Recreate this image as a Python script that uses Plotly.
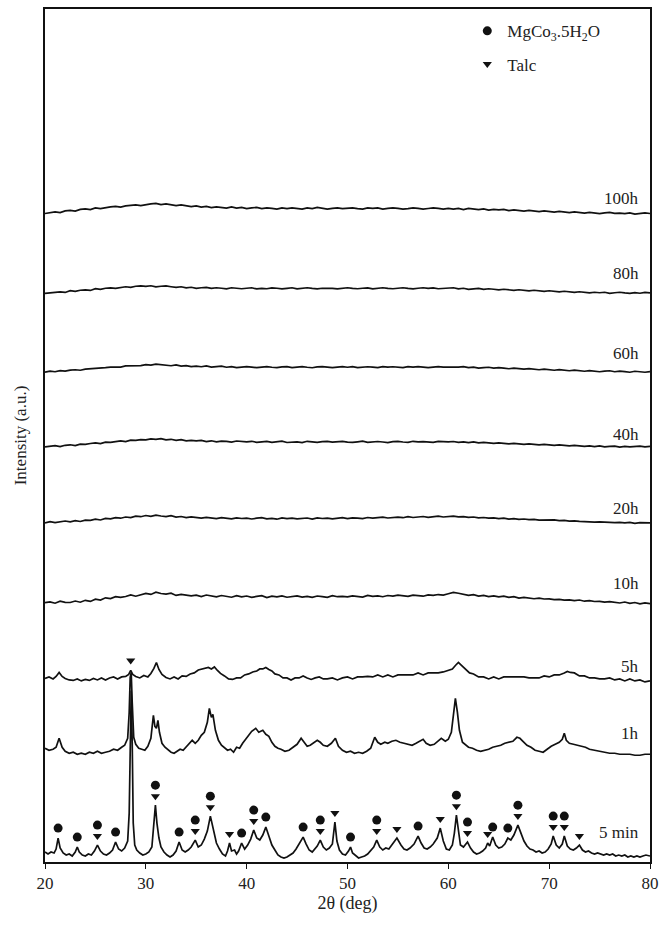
import numpy as np
import plotly.graph_objects as go

# ---------------------------------------------------------------------------
# XRD patterns of the milled powder (2-theta in degrees, intensity in a.u.)
# ---------------------------------------------------------------------------

# Crystalline patterns (non-uniform sampling, denser around reflections)
tt_5min = [20.0, 20.3, 20.6, 20.9, 21.1, 21.3, 21.5, 21.8, 22.1, 22.4, 22.7, 23.0, 23.2, 23.4,
           23.7, 24.0, 24.3, 24.6, 24.9, 25.2, 25.5, 25.8, 26.1, 26.4, 26.7, 27.0, 27.3, 27.6,
           27.9, 28.2, 28.35, 28.45, 28.55, 28.65, 28.75, 28.9, 29.1, 29.4, 29.7, 30.0, 30.3,
           30.6, 30.8, 30.95, 31.1, 31.3, 31.5, 31.8, 32.1, 32.4, 32.7, 33.0, 33.3, 33.6, 33.9,
           34.2, 34.5, 34.9, 35.2, 35.5, 35.8, 36.1, 36.4, 36.7, 37.0, 37.3, 37.6, 37.9, 38.1,
           38.3, 38.5, 38.8, 39.0, 39.2, 39.5, 39.8, 40.1, 40.4, 40.7, 41.0, 41.3, 41.6, 41.9,
           42.2, 42.5, 42.8, 43.1, 43.4, 43.7, 44.0, 44.3, 44.6, 44.9, 45.2, 45.6, 45.9, 46.2,
           46.5, 46.8, 47.0, 47.3, 47.6, 47.9, 48.2, 48.5, 48.75, 48.95, 49.2, 49.5, 49.8, 50.1,
           50.3, 50.5, 50.8, 51.1, 51.4, 51.7, 52.0, 52.3, 52.6, 52.9, 53.2, 53.5, 53.8, 54.1,
           54.4, 54.9, 55.3, 55.6, 55.9, 56.2, 56.6, 57.0, 57.3, 57.6, 57.9, 58.2, 58.5, 58.9,
           59.2, 59.5, 59.8, 60.1, 60.4, 60.6, 60.8, 61.0, 61.2, 61.5, 61.9, 62.2, 62.5, 62.8,
           63.1, 63.4, 63.7, 63.9, 64.1, 64.4, 64.7, 65.0, 65.3, 65.6, 65.9, 66.2, 66.5, 66.9,
           67.2, 67.5, 67.8, 68.1, 68.4, 68.7, 69.0, 69.3, 69.6, 69.9, 70.2, 70.4, 70.7, 71.0,
           71.3, 71.5, 71.8, 72.1, 72.4, 72.7, 73.0, 73.3, 73.6, 73.9, 74.2, 74.5, 74.8, 75.1,
           75.4, 75.7, 76.0, 76.3, 76.6, 76.9, 77.2, 77.5, 77.8, 78.1, 78.4, 78.7, 79.0, 79.3,
           79.6, 80.0]
i_5min = [1, -1, 1, 0, 4, 15, 5, 0, -2, -1, -3, 1, 6, 1,
          -2, -3, -1, -2, 2, 8, 2, -1, -2, 0, 3, 11, 4, 2,
          5, 12, 40, 120, 163, 110, 30, 8, 3, 0, -2, -1, 1,
          6, 30, 48, 30, 15, 6, 1, -2, -4, -2, 2, 11, 3, 1,
          3, 6, 13, 6, 8, 14, 22, 37, 22, 10, 4, -1, -3, 2,
          10, 2, 3, -1, 2, 10, 4, 8, 14, 23, 15, 13, 18, 26,
          17, 8, 3, -2, -4, -5, -4, -2, 0, 4, 9, 16, 9, 3,
          1, 4, 7, 13, 6, 3, 5, 9, 31, 12, 3, -1, -2, 2,
          6, 0, -3, -5, -4, -3, -1, 2, 6, 13, 6, 3, 5, 4,
          8, 15, 8, 4, 3, 5, 9, 17, 10, 5, 4, 6, 9, 15,
          25, 12, 4, 3, 8, 20, 38, 22, 8, 6, 11, 5, 1, -1,
          0, 2, 5, 10, 7, 16, 8, 5, 6, 9, 15, 13, 18, 28,
          20, 12, 7, 4, 3, 1, 2, 0, 1, 4, 9, 17, 8, 5,
          9, 17, 7, 4, 3, 5, 8, 3, 1, 2, 0, -1, 0, -1,
          -2, -1, -2, -1, -3, -2, -3, -2, -4, -3, -4, -3, -4, -3,
          -2, -3]

tt_1h = [20.0, 20.4, 20.8, 21.1, 21.4, 21.7, 22.0, 22.4, 22.8, 23.2, 23.6, 24.0, 24.4, 24.8,
         25.2, 25.6, 26.0, 26.4, 26.8, 27.2, 27.6, 27.9, 28.2, 28.35, 28.45, 28.55, 28.65,
         28.8, 29.0, 29.3, 29.6, 29.9, 30.2, 30.5, 30.75, 30.9, 31.05, 31.2, 31.35, 31.6,
         31.9, 32.2, 32.5, 32.8, 33.1, 33.4, 33.7, 34.0, 34.3, 34.6, 34.9, 35.2, 35.5, 35.8,
         36.1, 36.3, 36.5, 36.65, 36.9, 37.2, 37.5, 37.8, 38.1, 38.4, 38.7, 39.0, 39.3, 39.6,
         39.9, 40.2, 40.5, 40.9, 41.2, 41.6, 41.9, 42.2, 42.5, 42.8, 43.1, 43.4, 43.8, 44.2,
         44.6, 45.0, 45.4, 45.7, 46.0, 46.3, 46.6, 47.0, 47.3, 47.6, 48.0, 48.4, 48.8, 49.1,
         49.5, 49.9, 50.3, 50.7, 51.1, 51.5, 51.9, 52.3, 52.7, 53.0, 53.3, 53.7, 54.0, 54.4,
         54.8, 55.2, 55.6, 56.0, 56.4, 56.8, 57.2, 57.5, 57.8, 58.2, 58.6, 59.0, 59.3, 59.7,
         60.0, 60.3, 60.5, 60.7, 60.9, 61.1, 61.4, 61.7, 62.0, 62.4, 62.8, 63.2, 63.6, 64.0,
         64.4, 64.8, 65.2, 65.6, 66.0, 66.4, 66.8, 67.1, 67.4, 67.8, 68.2, 68.6, 69.0, 69.4,
         69.8, 70.2, 70.6, 71.0, 71.3, 71.5, 71.7, 72.0, 72.4, 72.8, 73.2, 73.6, 74.0, 74.5,
         75.0, 75.5, 76.0, 76.5, 77.0, 77.5, 78.0, 78.5, 79.0, 79.5, 80.0]
i_1h = [4, 2, 3, 5, 14, 5, 1, -1, 0, -2, -1, -2, 0, -1,
        1, -1, 0, 1, 3, 2, 5, 7, 14, 40, 75, 80, 50,
        15, 8, 4, 3, 2, 6, 14, 37, 26, 24, 32, 20, 9,
        5, 2, 0, -1, 1, 3, 2, 5, 8, 12, 9, 12, 17, 20,
        30, 44, 35, 38, 22, 12, 7, 4, 2, 3, 0, 5, 4, 9,
        13, 18, 21, 24, 20, 22, 18, 16, 10, 6, 4, 3, 1, 2,
        5, 8, 14, 10, 6, 7, 9, 12, 10, 7, 6, 9, 14, 6,
        2, 0, 1, -1, 0, -1, 1, 4, 15, 10, 8, 10, 9, 11,
        12, 10, 9, 8, 7, 9, 11, 13, 9, 7, 8, 11, 14, 11,
        13, 20, 35, 54, 40, 22, 10, 7, 5, 4, 2, 1, 2, 3,
        5, 6, 7, 9, 10, 11, 15, 14, 11, 7, 5, 2, 1, 0,
        3, 6, 8, 10, 13, 19, 12, 9, 8, 7, 6, 5, 3, 2,
        1, 0, -1, -1, -2, -2, -2, -3, -3, -2, -2]

tt_5h = [20.0, 20.4, 20.8, 21.1, 21.4, 21.7, 22.0, 22.4, 22.8, 23.2, 23.6, 24.0, 24.4, 24.8,
         25.2, 25.6, 26.0, 26.4, 26.8, 27.2, 27.6, 28.0, 28.3, 28.5, 28.7, 29.0, 29.4, 29.8,
         30.2, 30.5, 30.8, 31.05, 31.3, 31.6, 32.0, 32.4, 32.8, 33.2, 33.6, 34.0, 34.4, 34.8,
         35.2, 35.6, 35.9, 36.2, 36.5, 36.8, 37.1, 37.4, 37.8, 38.2, 38.6, 39.0, 39.4, 39.8,
         40.2, 40.6, 41.0, 41.3, 41.6, 41.9, 42.2, 42.5, 42.8, 43.2, 43.6, 44.0, 44.4, 44.8,
         45.2, 45.6, 46.0, 46.4, 46.8, 47.2, 47.6, 48.0, 48.5, 49.0, 49.5, 50.0, 50.5, 51.0,
         51.5, 52.0, 52.5, 53.0, 53.5, 54.0, 54.5, 55.0, 55.5, 56.0, 56.5, 57.0, 57.5, 58.0,
         58.5, 59.0, 59.5, 60.0, 60.4, 60.7, 61.0, 61.2, 61.5, 61.8, 62.1, 62.5, 63.0, 63.5,
         64.0, 64.5, 65.0, 65.5, 66.0, 66.5, 67.0, 67.5, 68.0, 68.5, 69.0, 69.5, 70.0, 70.5,
         71.0, 71.5, 71.8, 72.1, 72.5, 73.0, 73.5, 74.0, 74.5, 75.0, 75.5, 76.0, 76.5, 77.0,
         77.5, 78.0, 78.5, 79.0, 79.5, 80.0]
i_5h = [0, 1.5, -0.5, 2, 6, 2, 0, -1.5, -2, -0.5, -2.5, -1, -2, 0,
        -1.5, 0.5, -1.5, 0.5, 1.5, -0.5, 1.5, 2, 4, 8, 4, 2, 0.5, 3,
        1.5, 5, 10, 16, 9, 4, 1, -0.5, 1.5, -0.5, 2.5, 2, 4.5, 5.5,
        8.5, 9.5, 10, 11, 9.5, 11.5, 8, 5, 2.5, -0.5, -1, 0.5, 0.5, 3.5,
        4.5, 6.5, 7.5, 9.5, 9.5, 11, 9, 7.5, 4.5, 3.5, 0.5, 0.5, -1.5, 0.5,
        0.5, 2.5, 0.5, -1, 0.5, 1.5, -0.5, -0.5, 0.5, -1.5, 0.5, 1.5, -0.5, 1.5,
        1.5, 2, 1.5, 3.5, 1.5, 3.5, 1.5, 3.5, 3.5, 3.5, 3.5, 5.5, 3.5, 5.5,
        5.5, 5.5, 6.5, 8.5, 9.5, 13, 16, 14, 11, 8.5, 5.5, 4.5, 1.5, 1.5,
        -0.5, 1.5, -0.5, 1.5, 1.5, 1.5, 1.5, 1.5, 0.5, 0.5, 0.5, 2.5, 1.5, 3.5,
        3.5, 5.5, 7, 6, 5.5, 2.5, 2.5, 0.5, 0.5, -0.5, -0.5, 0.5, -1.5, -0.5,
        -2.5, -0.5, -2.5, -1.5, -3.5, -2.5]

# Amorphous patterns, uniform 0.5 deg step from 20 to 80 deg
tt_step = np.round(np.arange(20.0, 80.0 + 1e-9, 0.5), 2)

i_10h = [0, 0.8, -0.6, 1.4, 0.2, 0.1, 1.6, 0.4, 2.3, 1.2,
         3.4, 2.6, 4.8, 4.1, 5.9, 5.2, 6.1, 7.7, 6.4, 8.1,
         9.3, 8.2, 10.4, 9.1, 8.6, 9.4, 7.2, 8.3, 7.9, 6.8,
         7.4, 6.1, 7.6, 6.6, 5.8, 7.1, 6.2, 5.4, 6.9, 5.7,
         6.6, 5.3, 6.2, 6.9, 5.1, 6.4, 5.8, 6.7, 5.4, 6.1,
         6.8, 5.6, 6.3, 5.2, 6.6, 6.0, 5.3, 6.9, 5.9, 6.2,
         5.7, 6.8, 6.1, 5.6, 7.2, 6.3, 6.8, 5.9, 7.1, 6.5,
         7.4, 6.6, 6.2, 7.5, 7.0, 6.4, 7.8, 7.3, 8.1, 7.6,
         8.9, 10.2, 9.4, 8.5, 7.2, 7.9, 6.6, 7.3, 6.1, 6.8,
         5.7, 6.4, 5.2, 5.9, 4.6, 5.3, 4.8, 3.9, 4.5, 3.6,
         3.8, 2.9, 3.3, 2.4, 2.8, 1.9, 2.6, 1.4, 2.0, 1.1,
         1.3, 0.4, 1.0, 0.2, -0.4, 0.6, -0.8, 0.1, -1.2, -0.3,
         -1.0]
i_20h = [0, 1.2, 0.1, 0.7, 1.8, 0.9, 2.1, 1.3, 2.7, 2.4,
         3.6, 2.8, 4.4, 3.9, 5.1, 4.6, 5.8, 5.2, 6.6, 6.1,
         7.3, 6.4, 7.6, 6.8, 6.2, 7.1, 5.7, 6.3, 5.2, 5.9,
         5.4, 4.6, 5.5, 4.8, 4.1, 5.2, 4.5, 3.9, 5.0, 4.3,
         4.7, 3.8, 4.6, 5.1, 4.0, 4.4, 3.6, 4.9, 4.2, 4.7,
         3.9, 4.5, 4.8, 3.7, 5.0, 4.3, 4.6, 3.9, 4.4, 5.1,
         4.2, 4.9, 4.6, 4.1, 5.3, 4.7, 5.2, 5.6, 4.8, 5.4,
         5.7, 5.1, 6.1, 5.3, 5.8, 6.3, 5.5, 6.2, 6.6, 5.8,
         6.3, 6.7, 5.9, 6.2, 5.4, 5.8, 4.9, 5.3, 4.6, 4.9,
         4.2, 4.6, 3.7, 4.1, 3.4, 3.8, 3.1, 3.5, 2.7, 3.0,
         2.6, 2.9, 2.1, 2.4, 1.7, 2.0, 1.5, 1.1, 1.4, 0.7,
         1.0, 0.6, 0.9, 0.1, 0.5, -0.1, 0.4, -0.5, 0.1, 0.3,
         0]
i_40h = [0, 0.9, 1.3, 0.4, 1.7, 2.2, 1.4, 2.8, 2.6, 3.5,
         4.1, 3.4, 4.9, 4.6, 5.7, 6.2, 5.4, 6.8, 6.7, 7.4,
         7.2, 8.1, 7.6, 8.3, 7.1, 7.7, 6.6, 7.3, 6.2, 6.7,
         6.1, 6.6, 5.4, 6.2, 5.1, 5.8, 5.6, 4.9, 6.0, 5.4,
         5.1, 5.7, 4.6, 5.2, 5.6, 4.7, 5.3, 5.8, 4.5, 5.0,
         5.2, 4.4, 5.7, 5.1, 4.6, 5.3, 5.6, 4.8, 5.1, 5.7,
         4.9, 4.6, 5.2, 5.8, 4.7, 5.1, 5.5, 5.0, 4.4, 5.3,
         5.6, 5.0, 4.6, 5.7, 5.1, 5.4, 4.9, 4.6, 5.6, 5.2,
         5.1, 5.5, 4.6, 5.2, 4.4, 5.0, 4.1, 4.6, 3.9, 3.6,
         4.1, 3.4, 3.1, 3.6, 2.9, 2.6, 3.1, 2.4, 2.1, 2.6,
         1.9, 1.6, 2.1, 1.4, 1.1, 1.6, 0.9, 0.6, 1.1, 0.4,
         1.0, 0.1, 0.6, 0.9, -0.1, 0.5, 0.0, 0.6, 0.9, 0.1,
         0.5]
i_60h = [0, 1.1, 0.4, 1.6, 1.0, 2.1, 2.4, 1.9, 3.1, 3.4,
         4.0, 3.6, 4.6, 5.1, 5.4, 5.0, 6.2, 6.4, 7.1, 6.6,
         7.6, 7.1, 8.1, 7.4, 7.1, 6.4, 7.2, 6.1, 6.6, 5.6,
         6.1, 5.4, 6.2, 5.1, 5.6, 6.0, 4.9, 5.6, 4.6, 5.2,
         5.6, 5.0, 4.5, 5.1, 5.6, 4.9, 4.5, 5.2, 5.5, 4.6,
         5.1, 5.6, 4.9, 4.4, 5.2, 5.6, 5.0, 4.5, 5.1, 5.5,
         4.9, 5.6, 4.6, 5.1, 5.4, 5.0, 4.6, 5.6, 5.1, 5.4,
         5.0, 4.6, 5.6, 5.1, 5.5, 4.9, 4.6, 5.1, 5.6, 5.0,
         5.1, 4.6, 5.1, 5.6, 4.5, 5.1, 4.1, 4.6, 4.9, 4.0,
         4.6, 4.1, 3.4, 4.1, 3.6, 3.0, 3.5, 3.1, 2.4, 3.0,
         2.6, 1.9, 2.5, 2.1, 1.4, 2.0, 1.6, 0.9, 1.5, 1.1,
         0.4, 1.1, 1.4, 0.4, 1.1, 0.6, -0.1, 0.9, 0.5, -0.1,
         0.5]
i_80h = [0, 0.6, 1.1, 1.4, 0.9, 2.6, 1.9, 3.1, 3.4, 2.9,
         4.6, 3.9, 5.1, 5.4, 4.9, 6.1, 6.6, 5.9, 7.1, 7.4,
         6.9, 7.6, 6.4, 7.1, 7.4, 6.6, 5.9, 6.6, 5.4, 6.1,
         4.9, 5.6, 6.0, 4.9, 5.6, 5.1, 4.4, 5.6, 5.0, 4.6,
         5.1, 5.6, 4.4, 5.0, 4.6, 5.5, 5.1, 4.4, 5.0, 5.6,
         4.4, 5.1, 5.6, 4.9, 4.5, 5.1, 5.4, 5.0, 4.4, 5.1,
         5.6, 4.9, 4.6, 5.1, 5.5, 4.4, 5.0, 5.6, 4.9, 4.6,
         5.1, 5.6, 4.9, 4.4, 5.1, 5.6, 5.0, 5.4, 4.6, 5.1,
         4.9, 5.6, 4.4, 5.1, 4.0, 4.6, 5.0, 3.9, 4.6, 4.1,
         3.4, 4.1, 3.6, 2.9, 3.6, 3.1, 2.4, 3.1, 2.6, 1.9,
         2.6, 2.1, 1.4, 2.1, 1.6, 0.9, 1.6, 1.1, 0.4, 1.1,
         0.6, 1.1, -0.1, 0.6, 1.1, 0.4, -0.1, 0.6, 0.1, 1.0,
         0.5]
i_100h = [0, 0.6, 1.6, 0.9, 2.6, 3.1, 2.4, 4.1, 4.6, 3.9,
          5.6, 4.9, 6.1, 6.6, 7.1, 6.4, 7.6, 8.1, 8.6, 7.9,
          9.1, 9.6, 10.1, 8.9, 9.6, 8.4, 7.9, 8.6, 7.4, 6.9,
          7.6, 6.4, 7.1, 5.9, 6.6, 6.1, 5.4, 6.6, 5.4, 6.1,
          4.9, 5.6, 6.1, 4.9, 5.6, 5.1, 4.4, 5.6, 4.9, 5.6,
          5.1, 4.4, 5.6, 5.0, 6.1, 4.9, 4.4, 5.1, 5.6, 4.9,
          5.1, 5.6, 4.9, 4.4, 5.6, 5.1, 5.6, 4.4, 5.1, 5.6,
          5.1, 4.4, 4.9, 5.6, 5.1, 4.4, 5.0, 5.6, 5.1, 4.4,
          5.1, 4.4, 5.1, 3.9, 5.1, 4.6, 3.9, 4.6, 3.4, 4.1,
          3.6, 4.1, 2.9, 3.6, 3.1, 2.4, 3.1, 2.6, 1.9, 2.6,
          2.1, 1.4, 2.1, 1.6, 0.9, 1.6, 1.1, 0.4, 1.1, 0.6,
          -0.1, 0.6, 1.1, 0.1, 0.4, -0.1, 0.6, -0.6, 0.1, 0.6,
          0]

# Milling times, bottom to top, with the vertical stacking offset of each pattern
times = ["5 min", "1h", "5h", "10h", "20h", "40h", "60h", "80h", "100h"]
angles = [tt_5min, tt_1h, tt_5h, tt_step, tt_step, tt_step, tt_step, tt_step, tt_step]
intensities = [i_5min, i_1h, i_5h, i_10h, i_20h, i_40h, i_60h, i_80h, i_100h]
offsets = [9, 110, 184, 260, 340, 416, 491, 570, 650]
label_levels = [30, 129, 196, 279, 354, 429, 510, 590, 665]

# Indexed reflections of the 5 min pattern
mgco3_peaks = [21.3, 23.2, 25.2, 27.0, 30.95, 33.3, 34.9, 36.4, 39.5, 40.7, 41.9, 45.6,
               47.3, 50.3, 52.9, 57.0, 60.8, 61.9, 64.4, 65.9, 66.9, 70.4, 71.5]
talc_peaks = [25.2, 30.95, 34.9, 36.4, 38.3, 40.7, 47.3, 48.75, 52.9, 54.9, 59.2, 60.8,
              61.9, 63.9, 66.9, 70.4, 71.5, 73.0]
# Talc reflection marked on the 5h pattern
talc_peaks_5h = [28.5]

x_ticks = [20, 30, 40, 50, 60, 70, 80]

SERIF = "Liberation Serif, Times New Roman, serif"
INK = "#111111"
TEXT = "#222222"

fig = go.Figure()

for name, tt, inten, off in zip(times, angles, intensities, offsets):
    fig.add_trace(go.Scatter(
        x=list(tt), y=[off + v for v in inten], mode="lines", name=name,
        line=dict(color=INK, width=1.7), showlegend=False, hoverinfo="skip",
    ))


def peak_top(tt, inten, pos, half=0.3):
    tt = np.asarray(tt, dtype=float)
    inten = np.asarray(inten, dtype=float)
    sel = np.abs(tt - pos) <= half
    return float(inten[sel].max())


GAP = 10  # vertical clearance between a reflection and its symbol

circ_x, circ_y, tri_x, tri_y = [], [], [], []
for p in mgco3_peaks:
    top = offsets[0] + peak_top(tt_5min, i_5min, p)
    shared = any(abs(p - q) < 0.05 for q in talc_peaks)
    circ_x.append(p)
    circ_y.append(top + (2 * GAP if shared else GAP))
for p in talc_peaks:
    top = offsets[0] + peak_top(tt_5min, i_5min, p)
    tri_x.append(p)
    tri_y.append(top + GAP - 1)
for p in talc_peaks_5h:
    top = offsets[2] + peak_top(tt_5h, i_5h, p, half=0.15)
    tri_x.append(p)
    tri_y.append(top + GAP)

fig.add_trace(go.Scatter(
    x=circ_x, y=circ_y, mode="markers", name="MgCo<sub>3</sub>.5H<sub>2</sub>O",
    marker=dict(symbol="circle", size=9, color=INK), legendgroup="a", hoverinfo="skip",
))
fig.add_trace(go.Scatter(
    x=tri_x, y=tri_y, mode="markers", name="Talc",
    marker=dict(symbol="triangle-down", size=8, color=INK), legendgroup="b", hoverinfo="skip",
))

for name, lvl in zip(times, label_levels):
    fig.add_annotation(
        x=0.985, xref="paper", xanchor="right", y=lvl, yref="y", yanchor="middle",
        text=name, showarrow=False, font=dict(family=SERIF, size=17, color=TEXT),
    )

fig.update_layout(
    width=666, height=926,
    margin=dict(l=45, r=12, t=7, b=64),
    paper_bgcolor="white", plot_bgcolor="white",
    font=dict(family=SERIF, size=16, color=TEXT),
    showlegend=True,
    legend=dict(
        x=0.698, y=0.995, xanchor="left", yanchor="top",
        bgcolor="rgba(0,0,0,0)", borderwidth=0,
        font=dict(family=SERIF, size=17, color=TEXT),
        traceorder="grouped", tracegroupgap=8,
    ),
    xaxis=dict(
        range=[20, 80], tickvals=x_ticks, ticktext=[str(t) for t in x_ticks],
        ticks="outside", ticklen=5, tickwidth=1, tickcolor=INK,
        showline=True, linecolor=INK, linewidth=1.5, mirror=True,
        showgrid=False, zeroline=False,
        tickfont=dict(family=SERIF, size=17, color=TEXT),
        title=dict(text="2θ (deg)", font=dict(family=SERIF, size=18, color=TEXT), standoff=4),
    ),
    yaxis=dict(
        range=[0, 855], showticklabels=False, ticks="",
        showline=True, linecolor=INK, linewidth=1.5, mirror=True,
        showgrid=False, zeroline=False,
        title=dict(text="Intensity (a.u.)", font=dict(family=SERIF, size=17, color=TEXT), standoff=12),
    ),
)

fig.write_html("out.html")
